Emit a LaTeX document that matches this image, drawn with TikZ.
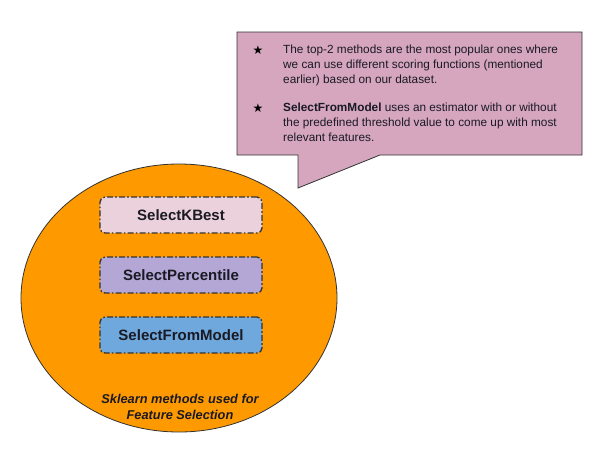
\documentclass[tikz,border=0pt]{standalone}
\usepackage{fontspec}
\setmainfont{Liberation Sans}
\newfontfamily\symfont{DejaVu Sans}
\usetikzlibrary{shapes.geometric}
\definecolor{orangefill}{HTML}{FF9900}
\definecolor{calloutfill}{HTML}{D5A6BD}
\definecolor{kbestfill}{HTML}{EAD1DC}
\definecolor{percfill}{HTML}{B4A7D6}
\definecolor{modelfill}{HTML}{6FA8DC}
\definecolor{edgegrey}{HTML}{333333}
\definecolor{txt}{HTML}{1A1A24}
\tikzset{
  methodbox/.style={draw=edgegrey, line width=1.3pt, rounded corners=5pt,
    dash pattern=on 6pt off 2.2pt on 1.6pt off 2.2pt,
    minimum width=162pt, minimum height=36pt, inner sep=0pt,
    text=txt, font=\fontsize{15}{18}\selectfont\bfseries},
  calloutpara/.style={anchor=north west, inner sep=0pt, align=left, text=txt,
    font=\fontsize{11.8}{15}\selectfont},
  staricon/.style={inner sep=0pt, text=black, font=\symfont\fontsize{12}{14}\selectfont}
}
\begin{document}
\begin{tikzpicture}[x=1pt,y=-1pt]
\useasboundingbox[fill=white] (0,0) rectangle (615,455);
% big ellipse
\node[ellipse, draw=edgegrey, line width=0.8pt, fill=orangefill, inner sep=0pt,
  minimum width=316pt, minimum height=268pt] (group) at (179,298) {};
% callout
\draw[draw=edgegrey, line width=0.8pt, fill=calloutfill]
  (237,32) -- (582,32) -- (582,155) -- (380,155) -- (298,188) -- (298,155) -- (237,155) -- cycle;
\node[staricon] (star1) at (258,50) {★};
\node[staricon] (star2) at (258,108) {★};
\node[calloutpara] (para1) at (283,45) {The top-2 methods are the most popular ones where\\we can use different scoring functions (mentioned\\earlier) based on our dataset.};
\node[calloutpara] (para2) at (283,103) {\textbf{SelectFromModel} uses an estimator with or without\\the predefined threshold value to come up with most\\relevant features.};
% method boxes
\node[methodbox, fill=kbestfill] (kbest) at (181,215) {SelectKBest};
\node[methodbox, fill=percfill] (perc) at (181,275) {SelectPercentile};
\node[methodbox, fill=modelfill] (model) at (181,335) {SelectFromModel};
% caption
\node[inner sep=0pt, align=center, text=txt, font=\fontsize{12.8}{16}\selectfont\bfseries\itshape] (caption) at (180,407) {Sklearn methods used for\\Feature Selection};
\end{tikzpicture}
\end{document}
